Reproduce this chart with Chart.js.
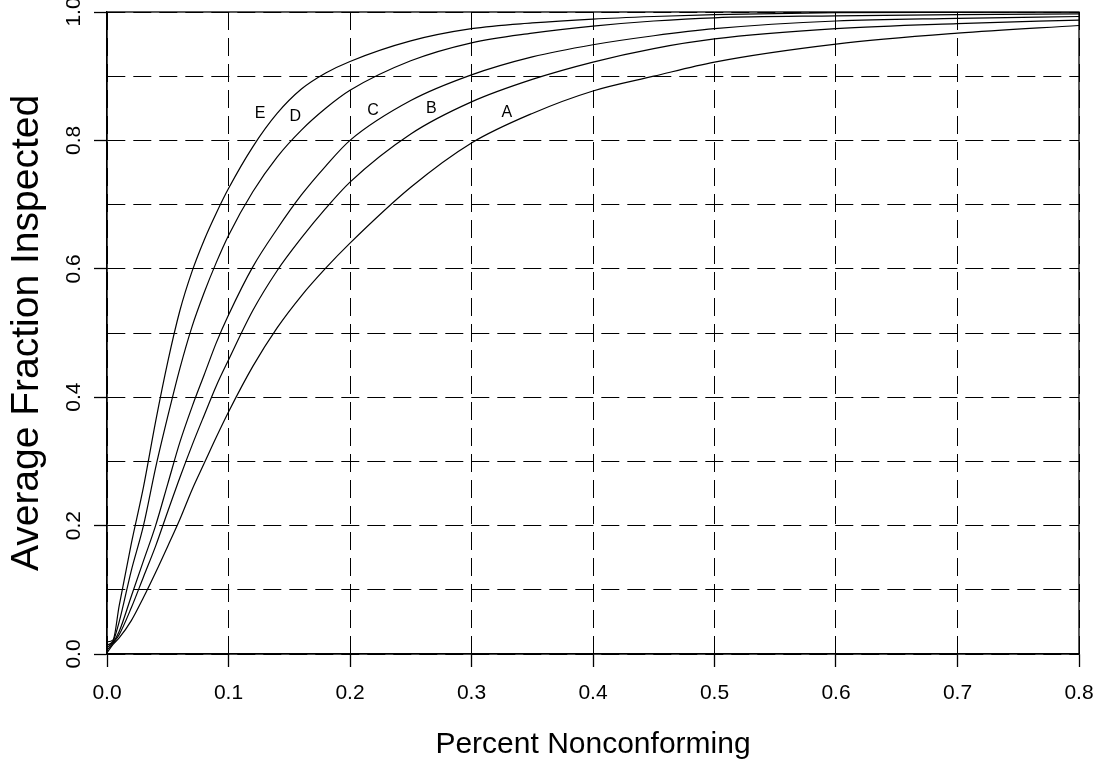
<!DOCTYPE html>
<html>
<head>
<meta charset="utf-8">
<script src="https://cdn.jsdelivr.net/npm/chart.js@4.4.1/dist/chart.umd.min.js"></script>
<style>
    html, body { margin: 0; padding: 0; background: #ffffff; }
    #wrap { width: 1100px; height: 765px; }
</style>
</head>
<body>
<div id="wrap"><canvas id="afiChart" width="1100" height="765"></canvas></div>
<script>
// fraction nonconforming (x) shared by all curves
const pctNonconforming = [0, 0.005, 0.01, 0.02, 0.03, 0.04, 0.05, 0.06, 0.07, 0.08, 0.09, 0.1,
    0.12, 0.14, 0.16, 0.18, 0.2, 0.25, 0.3, 0.35, 0.4, 0.45, 0.5, 0.6, 0.7, 0.8];

// average fraction inspected
const afiA = [0.002, 0.015, 0.025, 0.052, 0.088, 0.127, 0.168, 0.21, 0.256, 0.297, 0.338, 0.377,
    0.448, 0.508, 0.558, 0.601, 0.64, 0.727, 0.796, 0.842, 0.877, 0.90, 0.922, 0.95, 0.967, 0.979];
const afiB = [0.006, 0.017, 0.03, 0.072, 0.12, 0.168, 0.222, 0.275, 0.325, 0.372, 0.418, 0.458,
    0.535, 0.597, 0.648, 0.694, 0.735, 0.81, 0.86, 0.895, 0.922, 0.943, 0.958, 0.974, 0.982, 0.9875];
const afiC = [0.01, 0.018, 0.035, 0.09, 0.145, 0.20, 0.265, 0.33, 0.385, 0.435, 0.485, 0.528,
    0.603, 0.662, 0.715, 0.76, 0.80, 0.862, 0.902, 0.93, 0.949, 0.963, 0.974, 0.986, 0.990, 0.993];
const afiD = [0.014, 0.02, 0.05, 0.13, 0.20, 0.29, 0.37, 0.445, 0.51, 0.563, 0.61, 0.652,
    0.72, 0.774, 0.816, 0.85, 0.878, 0.924, 0.952, 0.967, 0.978, 0.986, 0.991, 0.994, 0.996, 0.997];
const afiE = [0.019, 0.022, 0.075, 0.172, 0.26, 0.362, 0.455, 0.535, 0.596, 0.645, 0.687, 0.725,
    0.79, 0.842, 0.88, 0.905, 0.923, 0.955, 0.974, 0.983, 0.989, 0.993, 0.996, 0.999, 0.9995, 0.9998];

const curveNames = ['A', 'B', 'C', 'D', 'E'];
const curveLabelX = [0.329, 0.267, 0.219, 0.155, 0.126];
const curveLabelY = [0.843, 0.849, 0.846, 0.837, 0.842];

const FONT = "'Liberation Sans', Arial, Helvetica, sans-serif";

document.addEventListener('DOMContentLoaded', () => {
    renderChart();
});

function toPoints(ys) {
    return pctNonconforming.map((x, i) => ({ x: x, y: ys[i] }));
}

function renderChart() {
    const ctx = document.getElementById('afiChart');
    const series = [afiA, afiB, afiC, afiD, afiE];

    const datasets = series.map((ys, i) => ({
        label: curveNames[i],
        data: toPoints(ys),
        borderColor: '#000000',
        borderWidth: 1.2,
        pointRadius: 0,
        fill: false,
        cubicInterpolationMode: 'monotone'
    }));

    const curveLabels = {
        id: 'curveLabels',
        afterDatasetsDraw(chart) {
            const c = chart.ctx;
            const xs = chart.scales.x;
            const ys = chart.scales.y;
            c.save();
            c.fillStyle = '#000000';
            c.font = '16px ' + FONT;
            c.textAlign = 'center';
            c.textBaseline = 'middle';
            curveNames.forEach((name, i) => {
                c.fillText(name, xs.getPixelForValue(curveLabelX[i]), ys.getPixelForValue(curveLabelY[i]));
            });
            c.restore();
        },
        afterDraw(chart) {
            // solid frame round the plot
            const a = chart.chartArea;
            const c = chart.ctx;
            c.save();
            c.strokeStyle = '#000000';
            c.lineWidth = 1.3;
            c.strokeRect(a.left, a.top, a.right - a.left, a.bottom - a.top);
            c.restore();
        }
    };

    new Chart(ctx, {
        type: 'line',
        data: { datasets: datasets },
        plugins: [curveLabels],
        options: {
            responsive: false,
            animation: false,
            layout: { padding: { left: 0, top: 12, right: 21, bottom: 0 } },
            plugins: {
                legend: { display: false },
                tooltip: { enabled: false }
            },
            scales: {
                x: {
                    type: 'linear',
                    min: 0,
                    max: 0.8,
                    afterFit(scale) {
                        scale.height = 111;
                        scale.paddingLeft = 0;
                        scale.paddingRight = 0;
                    },
                    ticks: {
                        stepSize: 0.1,
                        color: '#000000',
                        padding: 14,
                        font: { family: FONT, size: 21 },
                        callback: (v) => v.toFixed(1)
                    },
                    grid: {
                        color: '#000000',
                        lineWidth: 1,
                        tickLength: 13,
                        tickColor: '#000000',
                        tickWidth: 1.3
                    },
                    border: { display: true, color: '#000000', width: 1.3, dash: [18, 8] },
                    title: {
                        display: true,
                        text: 'Percent Nonconforming',
                        color: '#000000',
                        font: { family: FONT, size: 30 },
                        padding: { top: 0, bottom: 2 }
                    }
                },
                y: {
                    type: 'linear',
                    min: 0,
                    max: 1,
                    afterFit(scale) {
                        scale.width = 107;
                        scale.paddingTop = 0;
                        scale.paddingBottom = 0;
                    },
                    ticks: {
                        stepSize: 0.1,
                        color: '#000000',
                        padding: 5,
                        minRotation: 90,
                        maxRotation: 90,
                        crossAlign: 'center',
                        font: { family: FONT, size: 21 },
                        callback: (v) => (Math.round(v * 10) % 2 === 0 ? v.toFixed(1) : '')
                    },
                    grid: {
                        color: '#000000',
                        lineWidth: 1,
                        tickLength: 13,
                        tickWidth: 1.3,
                        tickColor: (c) => (c.tick && Math.round(c.tick.value * 10) % 2 === 0 ? '#000000' : 'rgba(0,0,0,0)')
                    },
                    border: { display: true, color: '#000000', width: 1.3, dash: [18, 8] },
                    title: {
                        display: true,
                        text: 'Average Fraction Inspected',
                        color: '#000000',
                        font: { family: FONT, size: 39 },
                        padding: { top: 4, bottom: 0 }
                    }
                }
            }
        }
    });
}
</script>
</body>
</html>
